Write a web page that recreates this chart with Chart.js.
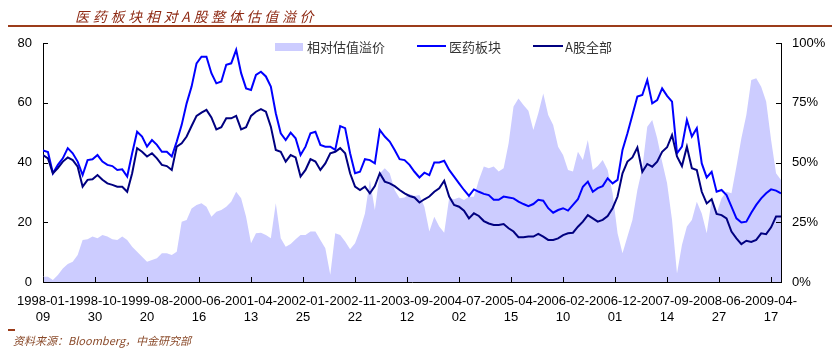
<!DOCTYPE html>
<html lang="zh-CN">
<head>
<meta charset="utf-8">
<title>医药板块相对A股整体估值溢价</title>
<script src="https://cdn.jsdelivr.net/npm/chart.js@4.4.0/dist/chart.umd.min.js"></script>
<style>
  html, body { margin: 0; padding: 0; background: #fff; }
  #wrap { position: relative; width: 832px; height: 348px; overflow: hidden; }
  #grafico { position: absolute; left: 0; top: 0; }
  .titulo { position: absolute; left: 75px; top: 6px; line-height: 20px; font: italic 14px "Noto Sans CJK SC", sans-serif; letter-spacing: 3.7px; color: #8e2a14; white-space: nowrap; }
  .regua { position: absolute; left: 8px; top: 25px; width: 824px; height: 2px; background: #9c3c1a; }
  .legenda { position: absolute; top: 37px; height: 18px; line-height: 18px; font: 13px "Noto Sans CJK SC", sans-serif; color: #333; white-space: nowrap; }
  .marca { position: absolute; }
  .fonte-traco { position: absolute; left: 8px; top: 329px; width: 7px; height: 2px; background: #9c3c1a; }
  .fonte { position: absolute; left: 13px; top: 332px; line-height: 15px; font: italic 11px "Noto Sans CJK SC", sans-serif; color: #8a4a2a; white-space: nowrap; }
</style>
</head>
<body>
<div id="wrap">
  <canvas id="grafico" width="832" height="348"></canvas>
  <div class="titulo">医药板块相对A股整体估值溢价</div>
  <div class="regua"></div>
  <div class="marca" style="left:275px;top:43px;width:28px;height:8px;background:#ccccff"></div>
  <div class="legenda" style="left:307px">相对估值溢价</div>
  <div class="marca" style="left:417px;top:45px;width:29px;height:2px;background:#0000ff"></div>
  <div class="legenda" style="left:449px">医药板块</div>
  <div class="marca" style="left:533px;top:45px;width:30px;height:2px;background:#000080"></div>
  <div class="legenda" style="left:565px">A股全部</div>
  <div class="fonte-traco"></div>
  <div class="fonte">资料来源：Bloomberg，中金研究部</div>
</div>
<script>
// rótulos do eixo x (a cada 42 semanas)
const rotulosDatas = ['1998-01-09', '1998-10-30', '1999-08-20', '2000-06-16', '2001-04-13',
  '2002-01-25', '2002-11-22', '2003-09-12', '2004-07-02', '2005-04-15',
  '2006-02-10', '2006-12-01', '2007-09-14', '2008-06-27', '2009-04-17'];

// PE, uma leitura a cada 4 semanas
const pePharma = [
  44.0, 43.5, 36.4, 39.2, 41.4, 44.8, 43.1, 40.3, 35.8, 40.8,
  41.1, 42.5, 40.3, 39.2, 38.8, 37.5, 37.7, 35.3, 43.1, 50.3,
  48.7, 45.3, 47.5, 45.9, 43.6, 43.6, 42.0, 47.0, 52.6, 59.8,
  65.4, 73.2, 75.4, 75.4, 69.9, 66.5, 67.1, 72.7, 73.2, 77.7,
  69.9, 64.8, 64.3, 69.3, 70.4, 68.8, 65.4, 56.5, 49.8, 47.5,
  50.0, 48.1, 42.5, 45.3, 49.8, 50.3, 45.9, 45.3, 45.3, 44.2,
  52.2, 51.5, 43.1, 36.4, 36.9, 41.1, 40.8, 39.7, 50.9, 48.7,
  47.0, 44.2, 41.1, 40.8, 39.2, 36.9, 35.0, 36.6, 35.8, 40.0,
  40.0, 40.6, 37.5, 35.3, 33.0, 30.8, 28.8, 31.0, 30.2, 29.5,
  29.1, 27.5, 27.5, 28.6, 28.3, 28.0, 26.9, 26.1, 25.4, 26.1,
  27.5, 27.2, 24.7, 23.2, 24.1, 24.7, 23.9, 25.8, 27.7, 31.9,
  33.6, 30.2, 31.4, 32.1, 34.7, 33.0, 34.2, 44.2, 49.8, 55.9,
  62.1, 62.6, 67.6, 59.8, 60.9, 64.8, 62.3, 60.4, 43.1, 45.3,
  54.2, 48.7, 51.5, 39.7, 35.0, 36.9, 30.2, 30.8, 29.1, 25.2,
  21.3, 19.9, 20.2, 23.2, 25.8, 28.0, 29.7, 31.0, 30.6, 29.7
];

const peMercado = [
  42.5, 41.4, 36.4, 38.1, 40.3, 41.7, 40.8, 38.6, 31.9, 34.2,
  34.4, 35.8, 34.2, 33.0, 32.5, 31.9, 31.9, 30.2, 36.4, 44.8,
  43.6, 42.0, 43.1, 41.4, 39.2, 38.8, 37.5, 45.3, 46.4, 48.7,
  52.2, 55.6, 56.7, 57.6, 55.1, 51.1, 51.8, 54.8, 54.8, 55.6,
  51.1, 51.8, 55.6, 57.0, 57.9, 57.0, 52.0, 44.2, 43.6, 40.3,
  42.5, 41.7, 35.3, 37.5, 41.1, 40.3, 37.5, 39.7, 43.1, 43.6,
  44.8, 43.1, 36.4, 31.9, 30.8, 31.9, 29.7, 32.1, 36.4, 33.6,
  33.0, 32.1, 30.8, 29.7, 28.8, 28.3, 26.6, 27.7, 28.6, 30.2,
  31.4, 33.9, 28.6, 25.8, 25.2, 23.9, 21.3, 23.0, 22.1, 20.4,
  19.6, 19.1, 19.1, 19.4, 18.0, 16.9, 15.0, 15.0, 15.2, 15.2,
  16.1, 15.2, 14.1, 14.1, 14.6, 15.7, 16.3, 16.5, 18.5, 20.2,
  22.4, 21.3, 20.2, 20.8, 22.1, 24.7, 28.6, 36.4, 40.3, 41.7,
  45.0, 36.9, 39.5, 38.6, 40.3, 43.6, 45.1, 49.2, 42.0, 38.8,
  45.3, 38.1, 37.5, 30.2, 26.3, 27.7, 22.8, 22.4, 21.3, 16.9,
  14.6, 12.7, 13.8, 13.4, 14.1, 16.3, 16.0, 18.3, 21.9, 21.9
];

// prêmio relativo (%)
const premio = [
  2.2, 2.2, 0.8, 2.9, 5.7, 7.5, 8.5, 11.3, 17.6, 17.9,
  19.0, 18.3, 19.7, 19.0, 17.9, 17.6, 19.0, 17.6, 14.8, 12.7,
  10.6, 8.5, 9.2, 9.9, 12.0, 12.0, 11.3, 12.7, 25.2, 25.9,
  30.8, 32.2, 32.9, 31.5, 27.3, 29.4, 30.1, 31.5, 33.6, 37.8,
  35.0, 27.3, 16.2, 20.4, 20.6, 19.7, 18.3, 32.9, 18.3, 14.8,
  15.9, 17.9, 19.7, 19.7, 21.1, 21.1, 17.6, 14.1, 3.0, 20.4,
  19.7, 16.9, 13.7, 16.2, 21.8, 28.7, 42.7, 30.1, 45.5, 47.6,
  45.5, 38.5, 35.0, 35.4, 36.8, 36.0, 36.4, 31.5, 21.1, 27.3,
  23.2, 20.6, 35.0, 34.6, 35.4, 34.3, 35.7, 35.7, 42.7, 48.3,
  47.6, 48.3, 46.2, 47.6, 58.0, 73.4, 76.8, 74.1, 71.7, 63.6,
  70.6, 78.9, 69.9, 65.7, 56.6, 53.1, 46.9, 46.2, 54.5, 51.0,
  59.4, 46.9, 48.5, 51.0, 46.9, 37.1, 20.4, 12.0, 19.0, 25.9,
  38.5, 47.6, 65.0, 67.8, 60.1, 50.3, 41.3, 25.9, 3.6, 15.5,
  23.2, 25.9, 33.6, 28.7, 20.4, 34.3, 28.7, 35.0, 37.8, 37.1,
  48.3, 60.1, 69.9, 84.5, 85.2, 81.7, 75.5, 59.4, 45.5, 42.7
];

const passoSemanas = 4;
const semanasPorRotulo = 42;
const ultimaSemana = 596;

const serie = valores => valores.map((v, i) => ({ x: i * passoSemanas, y: v }));

const fonteEixo = { family: '"Liberation Sans", Arial, sans-serif', size: 13 };

const ticksInternos = {
  id: 'ticksInternos',
  afterDraw(chart) {
    const { ctx, chartArea, scales } = chart;
    ctx.save();
    ctx.strokeStyle = '#000';
    ctx.lineWidth = 1;
    ctx.beginPath();
    scales.y.ticks.forEach(t => {
      const py = Math.round(scales.y.getPixelForValue(t.value)) + 0.5;
      ctx.moveTo(chartArea.left, py);
      ctx.lineTo(chartArea.left + 5, py);
    });
    scales.y2.ticks.forEach(t => {
      const py = Math.round(scales.y2.getPixelForValue(t.value)) + 0.5;
      ctx.moveTo(chartArea.right, py);
      ctx.lineTo(chartArea.right - 5, py);
    });
    scales.x.ticks.forEach(t => {
      const px = Math.round(scales.x.getPixelForValue(t.value)) + 0.5;
      ctx.moveTo(px, chartArea.bottom);
      ctx.lineTo(px, chartArea.bottom - 5);
    });
    ctx.stroke();
    ctx.restore();
  }
};

new Chart(document.getElementById('grafico'), {
  type: 'line',
  data: {
    datasets: [
      {
        label: 'A股全部',
        data: serie(peMercado),
        yAxisID: 'y',
        borderColor: '#000080',
        borderWidth: 2,
        pointRadius: 0,
        tension: 0,
        fill: false,
        order: 1
      },
      {
        label: '医药板块',
        data: serie(pePharma),
        yAxisID: 'y',
        borderColor: '#0000ff',
        borderWidth: 2,
        pointRadius: 0,
        tension: 0,
        fill: false,
        order: 2
      },
      {
        label: '相对估值溢价',
        data: serie(premio),
        yAxisID: 'y2',
        borderWidth: 0,
        borderColor: 'rgba(0,0,0,0)',
        backgroundColor: '#ccccff',
        pointRadius: 0,
        tension: 0,
        fill: 'origin',
        order: 3
      }
    ]
  },
  options: {
    responsive: false,
    animation: false,
    devicePixelRatio: 1,
    layout: { padding: { top: 43, bottom: 26, left: 0, right: 0 } },
    plugins: { legend: { display: false }, tooltip: { enabled: false } },
    scales: {
      x: {
        type: 'linear',
        min: 0,
        max: ultimaSemana,
        grid: { display: false, drawTicks: false },
        border: { display: true, color: '#000', width: 1 },
        afterBuildTicks: scale => {
          scale.ticks = rotulosDatas.map((d, i) => ({ value: i * semanasPorRotulo }));
        },
        afterFit: scale => { scale.height = 40; },
        ticks: {
          autoSkip: false,
          maxRotation: 0,
          padding: 11,
          color: '#000',
          font: { ...fonteEixo, lineHeight: 1.25 },
          callback: v => {
            const d = rotulosDatas[Math.round(v / semanasPorRotulo)];
            return d ? [d.slice(0, 8), d.slice(8)] : '';
          }
        }
      },
      y: {
        position: 'left',
        min: 0,
        max: 80,
        grid: { display: false, drawTicks: false },
        border: { display: true, color: '#000', width: 1 },
        afterFit: scale => { scale.width = 43; },
        ticks: { stepSize: 20, padding: 11, color: '#000', font: fonteEixo }
      },
      y2: {
        position: 'right',
        min: 0,
        max: 100,
        grid: { display: false, drawTicks: false },
        border: { display: true, color: '#000', width: 1 },
        afterFit: scale => { scale.width = 51; },
        ticks: { stepSize: 25, padding: 11, color: '#000', font: fonteEixo, callback: v => v + '%' }
      }
    }
  },
  plugins: [ticksInternos]
});
</script>
</body>
</html>
